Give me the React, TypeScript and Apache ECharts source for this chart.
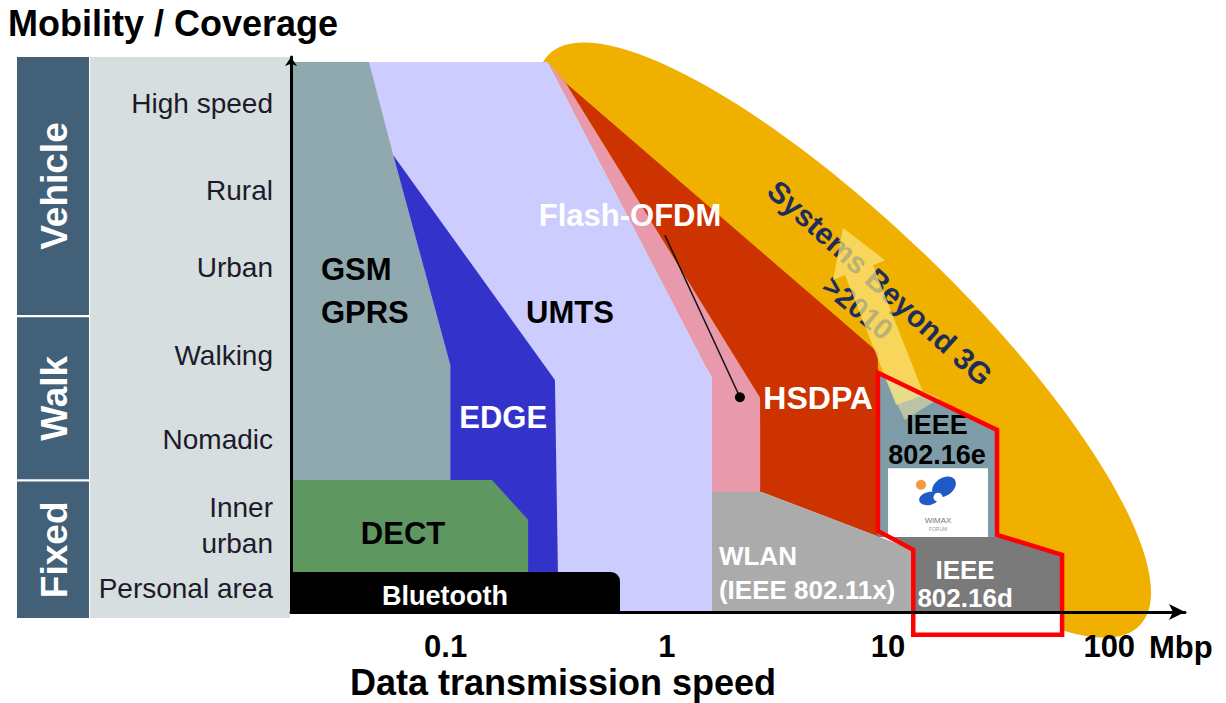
import React, { useEffect, useRef } from "react";
import * as echarts from "echarts";

const FONT = "'Liberation Sans', Arial, Helvetica, sans-serif";

// ---- texts ----
const yTitle = "Mobility / Coverage";
const xTitle = "Data transmission speed";
const speedUnit = "Mbp";

// ---- axes ----
const speedTicks = [0.1, 1, 10, 100];
const speedRange = [0.02, 220];
const mobilityRange = [0, 100];

// ---- mobility rows (y axis categories) ----
const mobilityRows = ["High speed", "Rural", "Urban", "Walking", "Nomadic", "Inner\nurban", "Personal area"];
const mobilityRowLevels = [91.7, 76.0, 62.0, 46.3, 31.0, 15.6, 4.3];
const mobilityGroups = ["Vehicle", "Walk", "Fixed"];
const mobilityGroupTop = [100, 53.1, 23.5];
const mobilityGroupBottom = [53.5, 23.9, -1.1];

// ---- technology regions: vertices as [Mbps, mobility] ----
const umtsRegion = [[0.045, 99.1], [0.29, 99.1], [1.6, 42.2], [1.6, 0], [0.02, 0], [0.02, 99.1]];
const gsmRegion = [[0.02, 99.1], [0.045, 99.1], [0.058, 82.3], [0.105, 44.5], [0.105, 23.8], [0.02, 23.8]];
const edgeRegion = [[0.058, 82.3], [0.312, 41.8], [0.322, 6.7], [0.105, 6.7], [0.105, 44.5]];
const dectRegion = [[0.02, 23.8], [0.162, 23.8], [0.236, 16.6], [0.236, 7.2], [0.02, 7.2]];
const bluetoothRegion = [[0.02, 7.2], [0.614, 0]];
const flashOfdmRegion = [[0.29, 99.1], [0.347, 95.5], [2.64, 38.6], [2.64, 21.6], [1.6, 21.6], [1.6, 42.2]];
const hsdpaRegion = [[0.329, 96.2], [9.0, 46.8], [9.0, 13.6], [2.69, 21.6], [2.64, 21.6], [2.64, 38.6], [0.347, 95.5]];
const wlanRegion = [[1.6, 21.6], [2.69, 21.6], [13, 11.2], [13, 0], [1.6, 0]];
const ieee80216eRegion = [[9.0, 43.1], [31.1, 32.8], [31.1, 13.5], [9.0, 13.5]];
const ieee80216dRegion = [[9.0, 13.5], [31.1, 13.5], [31.1, 14.2], [61.2, 10.3], [61.2, 0], [13, 0], [13, 11.2], [9.0, 14.2]];
const wimaxOutline = [[9.0, 43.1], [31.1, 32.8], [31.1, 13.9], [61.2, 10.3], [61.2, -4.1], [13, -4.1], [13, 11.2], [9.0, 14.6]];
const beyond3gEllipse = [[6.33, 49.0], [137.8, -2.34], [14.8, 64.3]]; // centre, major-axis end, minor-axis end
const beyond3gArrow = [[6.26, 69.2], [9.69, 63.4], [8.55, 62.5], [14.55, 39.1], [10.87, 37.3], [6.39, 60.7], [5.64, 59.8]];
const arrowTrail = [[9.69, 42.2], [17.2, 38.6], [11.9, 34.6]];
const wimaxLogoBox = [[10, 25.9], [28.3, 13.5]];
const flashOfdmPointer = [[0.98, 67.9], [2.14, 38.7]];

// ---- region labels ----
const regionLabels = [
  "GSM\nGPRS", "UMTS", "EDGE", "DECT", "Bluetooth", "Flash-OFDM", "HSDPA",
  "WLAN\n(IEEE 802.11x)", "IEEE\n802.16e", "IEEE\n802.16d", "Systems Beyond 3G", ">2010",
];
const regionLabelAnchors = [
  [0.0273, 57.8], [0.365, 53.9], [0.182, 35.0], [0.0642, 14.2], [0.0994, 2.9], [0.682, 71.5], [4.83, 38.6],
  [1.72, 7.0], [16.65, 31.0], [22.3, 5.0], [9.2, 59.3], [7.31, 54.8],
];

const labelStyles: any[] = [
  { fill: "#000", size: 31, weight: "bold", align: "left", lh: 43 },
  { fill: "#000", size: 31, weight: "bold" },
  { fill: "#fff", size: 31, weight: "bold" },
  { fill: "#000", size: 31, weight: "bold" },
  { fill: "#fff", size: 27, weight: "bold" },
  { fill: "#fff", size: 31, weight: "bold" },
  { fill: "#fff", size: 32, weight: "bold" },
  { fill: "#fff", size: 26, weight: "bold", align: "left", lh: 34 },
  { fill: "#000", size: 27, weight: "bold", lh: 30 },
  { fill: "#fff", size: 26, weight: "bold", lh: 28 },
  { fill: "#1C2D5C", size: 30, weight: "bold", rotate: -42 },
  { fill: "#1C2D5C", size: 29, weight: "bold", rotate: -40 },
];

function polySeries(name: string, pts: number[][], style: any) {
  return {
    type: "custom",
    name,
    silent: true,
    clip: false,
    coordinateSystem: "cartesian2d",
    data: pts,
    encode: { x: 0, y: 1 },
    renderItem: (params: any, api: any) =>
      params.dataIndex === 0
        ? { type: "polygon", shape: { points: pts.map((p) => api.coord(p)) }, style }
        : null,
  };
}

function customSeries(name: string, pts: number[][], render: (params: any, api: any) => any) {
  return {
    type: "custom",
    name,
    silent: true,
    clip: false,
    coordinateSystem: "cartesian2d",
    data: pts,
    encode: { x: 0, y: 1 },
    renderItem: render,
  };
}

export default function App() {
  const ref = useRef<HTMLDivElement>(null);

  useEffect(() => {
    if (!ref.current) return;
    const chart = echarts.init(ref.current, undefined, { renderer: "svg" });

    const series: any[] = [
      customSeries("beyond3g", beyond3gEllipse, (params, api) => {
        if (params.dataIndex !== 0) return null;
        const c = api.coord(beyond3gEllipse[0]);
        const a = api.coord(beyond3gEllipse[1]);
        const b = api.coord(beyond3gEllipse[2]);
        const rx = Math.hypot(a[0] - c[0], a[1] - c[1]);
        const ry = Math.hypot(b[0] - c[0], b[1] - c[1]);
        return {
          type: "ellipse",
          x: c[0],
          y: c[1],
          rotation: Math.atan2(-(a[1] - c[1]), a[0] - c[0]),
          shape: { cx: 0, cy: 0, rx, ry },
          style: { fill: "#F0B000" },
        };
      }),
      polySeries("UMTS", umtsRegion, { fill: "#CCCCFF" }),
      polySeries("GSM", gsmRegion, { fill: "#90A9AF" }),
      polySeries("EDGE", edgeRegion, { fill: "#3333CC" }),
      polySeries("DECT", dectRegion, { fill: "#5F9761" }),
      customSeries("Bluetooth", bluetoothRegion, (params, api) => {
        if (params.dataIndex !== 0) return null;
        const p0 = api.coord(bluetoothRegion[0]);
        const p1 = api.coord(bluetoothRegion[1]);
        return {
          type: "rect",
          shape: { x: p0[0], y: p0[1], width: p1[0] - p0[0], height: p1[1] - p0[1], r: [3, 9, 0, 0] },
          style: { fill: "#000" },
        };
      }),
      polySeries("Flash-OFDM", flashOfdmRegion, { fill: "#E899AC" }),
      polySeries("HSDPA", hsdpaRegion, { fill: "#CC3300" }),
      polySeries("WLAN", wlanRegion, { fill: "#ABABAB" }),
      polySeries("WiMAX area", wimaxOutline, { fill: "#FFFFFF" }),
      polySeries("IEEE 802.16e", ieee80216eRegion, { fill: "#7E9CA8" }),
      polySeries("IEEE 802.16d", ieee80216dRegion, { fill: "#7A7A7A" }),
      customSeries("WiMAX logo", wimaxLogoBox, (params, api) => {
        if (params.dataIndex !== 0) return null;
        const p0 = api.coord(wimaxLogoBox[0]);
        const p1 = api.coord(wimaxLogoBox[1]);
        const w = p1[0] - p0[0];
        const h = p1[1] - p0[1];
        const x = p0[0];
        const y = p0[1];
        return {
          type: "group",
          children: [
            { type: "rect", shape: { x, y, width: w, height: h }, style: { fill: "#fff" } },
            { type: "circle", shape: { cx: x + 0.33 * w, cy: y + 0.24 * h, r: 0.05 * w }, style: { fill: "#F39A3C" } },
            { type: "ellipse", x: x + 0.56 * w, y: y + 0.27 * h, rotation: 0.6, shape: { cx: 0, cy: 0, rx: 0.13 * w, ry: 0.09 * w }, style: { fill: "#1E5BC6" } },
            { type: "ellipse", x: x + 0.41 * w, y: y + 0.44 * h, rotation: 0.2, shape: { cx: 0, cy: 0, rx: 0.1 * w, ry: 0.065 * w }, style: { fill: "#1E5BC6" } },
            { type: "circle", shape: { cx: x + 0.5 * w, cy: y + 0.42 * h, r: 0.045 * w }, style: { fill: "#fff" } },
            { type: "text", x: x + 0.5 * w, y: y + 0.76 * h, style: { text: "WiMAX", fill: "#777", fontSize: 8, fontFamily: FONT, align: "center", verticalAlign: "middle" } },
            { type: "text", x: x + 0.5 * w, y: y + 0.88 * h, style: { text: "FORUM", fill: "#999", fontSize: 5, fontFamily: FONT, align: "center", verticalAlign: "middle" } },
          ],
        };
      }),
      polySeries("arrow trail", arrowTrail, { fill: "#EDE3A6", opacity: 0.55 }),
      customSeries("labels", regionLabelAnchors, (params, api) => {
        const i = params.dataIndex;
        const st = labelStyles[i];
        const p = api.coord([api.value(0), api.value(1)]);
        return {
          type: "text",
          x: p[0],
          y: p[1],
          rotation: ((st.rotate || 0) * Math.PI) / 180,
          style: {
            text: regionLabels[i],
            fill: st.fill,
            fontSize: st.size,
            fontWeight: st.weight,
            fontFamily: FONT,
            align: st.align || "center",
            verticalAlign: "middle",
            lineHeight: st.lh || st.size * 1.15,
          },
        };
      }),
      polySeries("beyond 3G arrow", beyond3gArrow, { fill: "#F9E57E", opacity: 0.72 }),
      polySeries("WiMAX outline", wimaxOutline, { fill: "none", stroke: "#FF0000", lineWidth: 4.5, lineJoin: "miter" }),
      customSeries("Flash-OFDM pointer", flashOfdmPointer, (params, api) => {
        if (params.dataIndex !== 0) return null;
        const a = api.coord(flashOfdmPointer[0]);
        const b = api.coord(flashOfdmPointer[1]);
        return {
          type: "group",
          children: [
            { type: "line", shape: { x1: a[0], y1: a[1], x2: b[0], y2: b[1] }, style: { stroke: "#111", lineWidth: 1.5 } },
            { type: "circle", shape: { cx: b[0], cy: b[1], r: 5 }, style: { fill: "#000" } },
          ],
        };
      }),
      customSeries(
        "panel",
        [[speedRange[0], mobilityGroupTop[0]], [speedRange[0], mobilityGroupBottom[2]]],
        (params, api) => {
          if (params.dataIndex !== 0) return null;
          const t = api.coord([speedRange[0], mobilityGroupTop[0]]);
          const b = api.coord([speedRange[0], mobilityGroupBottom[2]]);
          return {
            type: "rect",
            shape: { x: t[0] - 201, y: t[1], width: 200, height: b[1] - t[1] },
            style: { fill: "#D7DEDF" },
          };
        }
      ),
      customSeries(
        "groups",
        mobilityGroups.map((_, i) => [speedRange[0], mobilityGroupTop[i], mobilityGroupBottom[i]]),
        (params, api) => {
          const i = params.dataIndex;
          const t = api.coord([speedRange[0], mobilityGroupTop[i]]);
          const b = api.coord([speedRange[0], mobilityGroupBottom[i]]);
          return {
            type: "group",
            children: [
              { type: "rect", shape: { x: t[0] - 274, y: t[1], width: 72, height: b[1] - t[1] }, style: { fill: "#436079" } },
              {
                type: "text",
                x: t[0] - 237,
                y: (t[1] + b[1]) / 2,
                rotation: Math.PI / 2,
                style: { text: mobilityGroups[i], fill: "#fff", fontSize: 37, fontWeight: "bold", fontFamily: FONT, align: "center", verticalAlign: "middle" },
              },
            ],
          };
        }
      ),
      customSeries(
        "rows",
        mobilityRowLevels.map((l) => [speedRange[0], l]),
        (params, api) => {
          const i = params.dataIndex;
          const p = api.coord([speedRange[0], mobilityRowLevels[i]]);
          return {
            type: "text",
            x: p[0] - 18,
            y: p[1],
            style: { text: mobilityRows[i], fill: "#1d1b2b", fontSize: 28, fontFamily: FONT, align: "right", verticalAlign: "middle", lineHeight: 36 },
          };
        }
      ),
    ];

    chart.setOption({
      animation: false,
      backgroundColor: "#ffffff",
      title: [
        { text: yTitle, left: 8, top: 5, padding: 0, textStyle: { fontSize: 36, fontWeight: "bold", color: "#000", fontFamily: FONT } },
        { text: xTitle, left: 563, textAlign: "center", top: 664, padding: 0, textStyle: { fontSize: 36, fontWeight: "bold", color: "#000", fontFamily: FONT } },
      ],
      grid: { left: 291, right: 41, top: 57, bottom: 91, containLabel: false },
      xAxis: {
        type: "log",
        logBase: 10,
        min: speedRange[0],
        max: speedRange[1],
        z: 10,
        axisLine: { show: true, lineStyle: { color: "#000", width: 3 }, symbol: ["none", "arrow"], symbolSize: [12, 16] },
        axisTick: { show: false },
        splitLine: { show: false },
        axisLabel: {
          show: true,
          margin: 19,
          fontSize: 31,
          fontWeight: "bold",
          color: "#000",
          fontFamily: FONT,
          showMinLabel: false,
          showMaxLabel: false,
          formatter: (v: number) => {
            const t = speedTicks.find((s) => Math.abs(Math.log10(s) - Math.log10(v)) < 1e-6);
            return t === undefined ? "" : String(t);
          },
        },
        name: speedUnit,
        nameLocation: "end",
        nameGap: -36,
        nameTextStyle: { fontSize: 31, fontWeight: "bold", color: "#000", fontFamily: FONT, align: "left", verticalAlign: "top", padding: [20, 0, 0, 0] },
      },
      yAxis: {
        type: "value",
        min: mobilityRange[0],
        max: mobilityRange[1],
        z: 10,
        axisLine: { show: true, lineStyle: { color: "#000", width: 3 }, symbol: ["none", "arrow"], symbolSize: [9, 9] },
        axisTick: { show: false },
        axisLabel: { show: false },
        splitLine: { show: false },
      },
      series,
    });

    return () => chart.dispose();
  }, []);

  return <div ref={ref} style={{ position: "fixed", left: 0, top: 0, width: 1226, height: 703 }} />;
}
